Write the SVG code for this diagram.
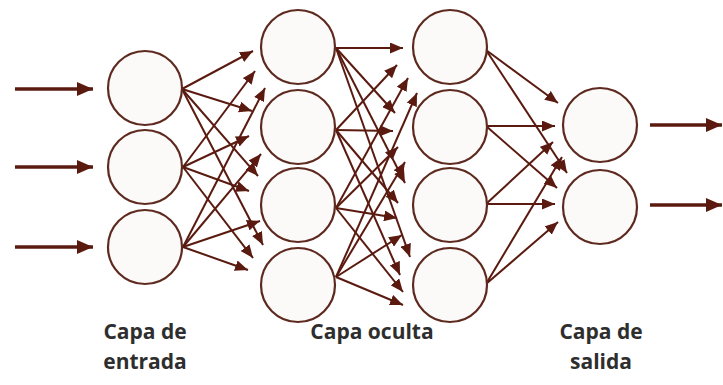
<svg xmlns="http://www.w3.org/2000/svg" width="723" height="385" viewBox="0 0 723 385">
  <style>
    .node { fill: #fbfaf9; stroke: #5e2a20; stroke-width: 2.2; }
    .edge { stroke: #5a1a10; stroke-width: 2; fill: none; marker-end: url(#head); }
    .io { stroke: #5a1a10; stroke-width: 3.4; fill: none; marker-end: url(#bighead); }
    .label { font-family: "Open Sans", "Liberation Sans", sans-serif; font-weight: 700; font-size: 21px; fill: #2e2e2e; text-anchor: middle; }
  </style>
  <defs>
    <marker id="head" markerUnits="userSpaceOnUse" markerWidth="13" markerHeight="11" refX="13" refY="5.5" orient="auto">
      <path d="M0,0 L13,5.5 L0,11 z" fill="#5a1a10"/>
    </marker>
    <marker id="bighead" markerUnits="userSpaceOnUse" markerWidth="16" markerHeight="14" refX="16" refY="7" orient="auto">
      <path d="M0,0 L16,7 L0,14 z" fill="#5a1a10"/>
    </marker>
  </defs>
  <rect width="723" height="385" fill="#ffffff"/>

  <g id="connectors">
    <!-- inputs -->
    <line class="io" x1="15" y1="89" x2="93" y2="89"/>
    <line class="io" x1="15" y1="167" x2="93" y2="167"/>
    <line class="io" x1="15" y1="247" x2="93" y2="247"/>

    <!-- input layer to first hidden layer -->
    <line class="edge" x1="182" y1="89" x2="253" y2="51"/>
    <line class="edge" x1="183" y1="167" x2="255" y2="71"/>
    <line class="edge" x1="183" y1="247" x2="265" y2="88"/>
    <line class="edge" x1="182" y1="89" x2="252" y2="111"/>
    <line class="edge" x1="183" y1="167" x2="249" y2="136"/>
    <line class="edge" x1="183" y1="247" x2="261" y2="154"/>
    <line class="edge" x1="182" y1="89" x2="258" y2="176"/>
    <line class="edge" x1="183" y1="167" x2="249" y2="191"/>
    <line class="edge" x1="183" y1="247" x2="260" y2="221"/>
    <line class="edge" x1="182" y1="89" x2="263" y2="245"/>
    <line class="edge" x1="183" y1="167" x2="253" y2="258"/>
    <line class="edge" x1="183" y1="247" x2="248" y2="270"/>

    <!-- first hidden layer to second hidden layer -->
    <line class="edge" x1="336" y1="48" x2="403" y2="48"/>
    <line class="edge" x1="336" y1="130" x2="397" y2="65"/>
    <line class="edge" x1="336" y1="208" x2="408" y2="78"/>
    <line class="edge" x1="336" y1="277" x2="417" y2="93"/>
    <line class="edge" x1="336" y1="48" x2="395" y2="113"/>
    <line class="edge" x1="336" y1="130" x2="393" y2="131"/>
    <line class="edge" x1="336" y1="208" x2="398" y2="147"/>
    <line class="edge" x1="336" y1="277" x2="405" y2="162"/>
    <line class="edge" x1="336" y1="48" x2="405" y2="183"/>
    <line class="edge" x1="336" y1="130" x2="398" y2="203"/>
    <line class="edge" x1="336" y1="208" x2="397" y2="218"/>
    <line class="edge" x1="336" y1="277" x2="402" y2="235"/>
    <line class="edge" x1="336" y1="48" x2="410" y2="257"/>
    <line class="edge" x1="336" y1="130" x2="400" y2="275"/>
    <line class="edge" x1="336" y1="208" x2="403" y2="292"/>
    <line class="edge" x1="336" y1="277" x2="403" y2="305"/>

    <!-- second hidden layer to output layer -->
    <line class="edge" x1="486" y1="50" x2="558" y2="103"/>
    <line class="edge" x1="486" y1="126" x2="555" y2="126"/>
    <line class="edge" x1="486" y1="204" x2="553" y2="142"/>
    <line class="edge" x1="486" y1="284" x2="562" y2="157"/>
    <line class="edge" x1="486" y1="50" x2="567" y2="173"/>
    <line class="edge" x1="486" y1="126" x2="557" y2="188"/>
    <line class="edge" x1="486" y1="204" x2="555" y2="204"/>
    <line class="edge" x1="486" y1="284" x2="558" y2="222"/>

    <!-- outputs -->
    <line class="io" x1="650" y1="125" x2="722" y2="125"/>
    <line class="io" x1="650" y1="205" x2="722" y2="205"/>
  </g>

  <g id="input-1"><circle class="node" cx="145" cy="88" r="37"/></g>
  <g id="input-2"><circle class="node" cx="145" cy="167" r="37"/></g>
  <g id="input-3"><circle class="node" cx="145" cy="247" r="37"/></g>

  <g id="hidden1-1"><circle class="node" cx="298" cy="47" r="37"/></g>
  <g id="hidden1-2"><circle class="node" cx="298" cy="127" r="37"/></g>
  <g id="hidden1-3"><circle class="node" cx="298" cy="205" r="37"/></g>
  <g id="hidden1-4"><circle class="node" cx="298" cy="285" r="37"/></g>

  <g id="hidden2-1"><circle class="node" cx="450" cy="47" r="37"/></g>
  <g id="hidden2-2"><circle class="node" cx="450" cy="127" r="37"/></g>
  <g id="hidden2-3"><circle class="node" cx="450" cy="205" r="37"/></g>
  <g id="hidden2-4"><circle class="node" cx="450" cy="285" r="37"/></g>

  <g id="output-1"><circle class="node" cx="600" cy="125" r="37"/></g>
  <g id="output-2"><circle class="node" cx="600" cy="207" r="37"/></g>

  <g id="labels">
    <text class="label" x="145" y="339">Capa de</text>
    <text class="label" x="145" y="369">entrada</text>
    <text class="label" x="372" y="339">Capa oculta</text>
    <text class="label" x="601" y="339">Capa de</text>
    <text class="label" x="601" y="369">salida</text>
  </g>
</svg>
